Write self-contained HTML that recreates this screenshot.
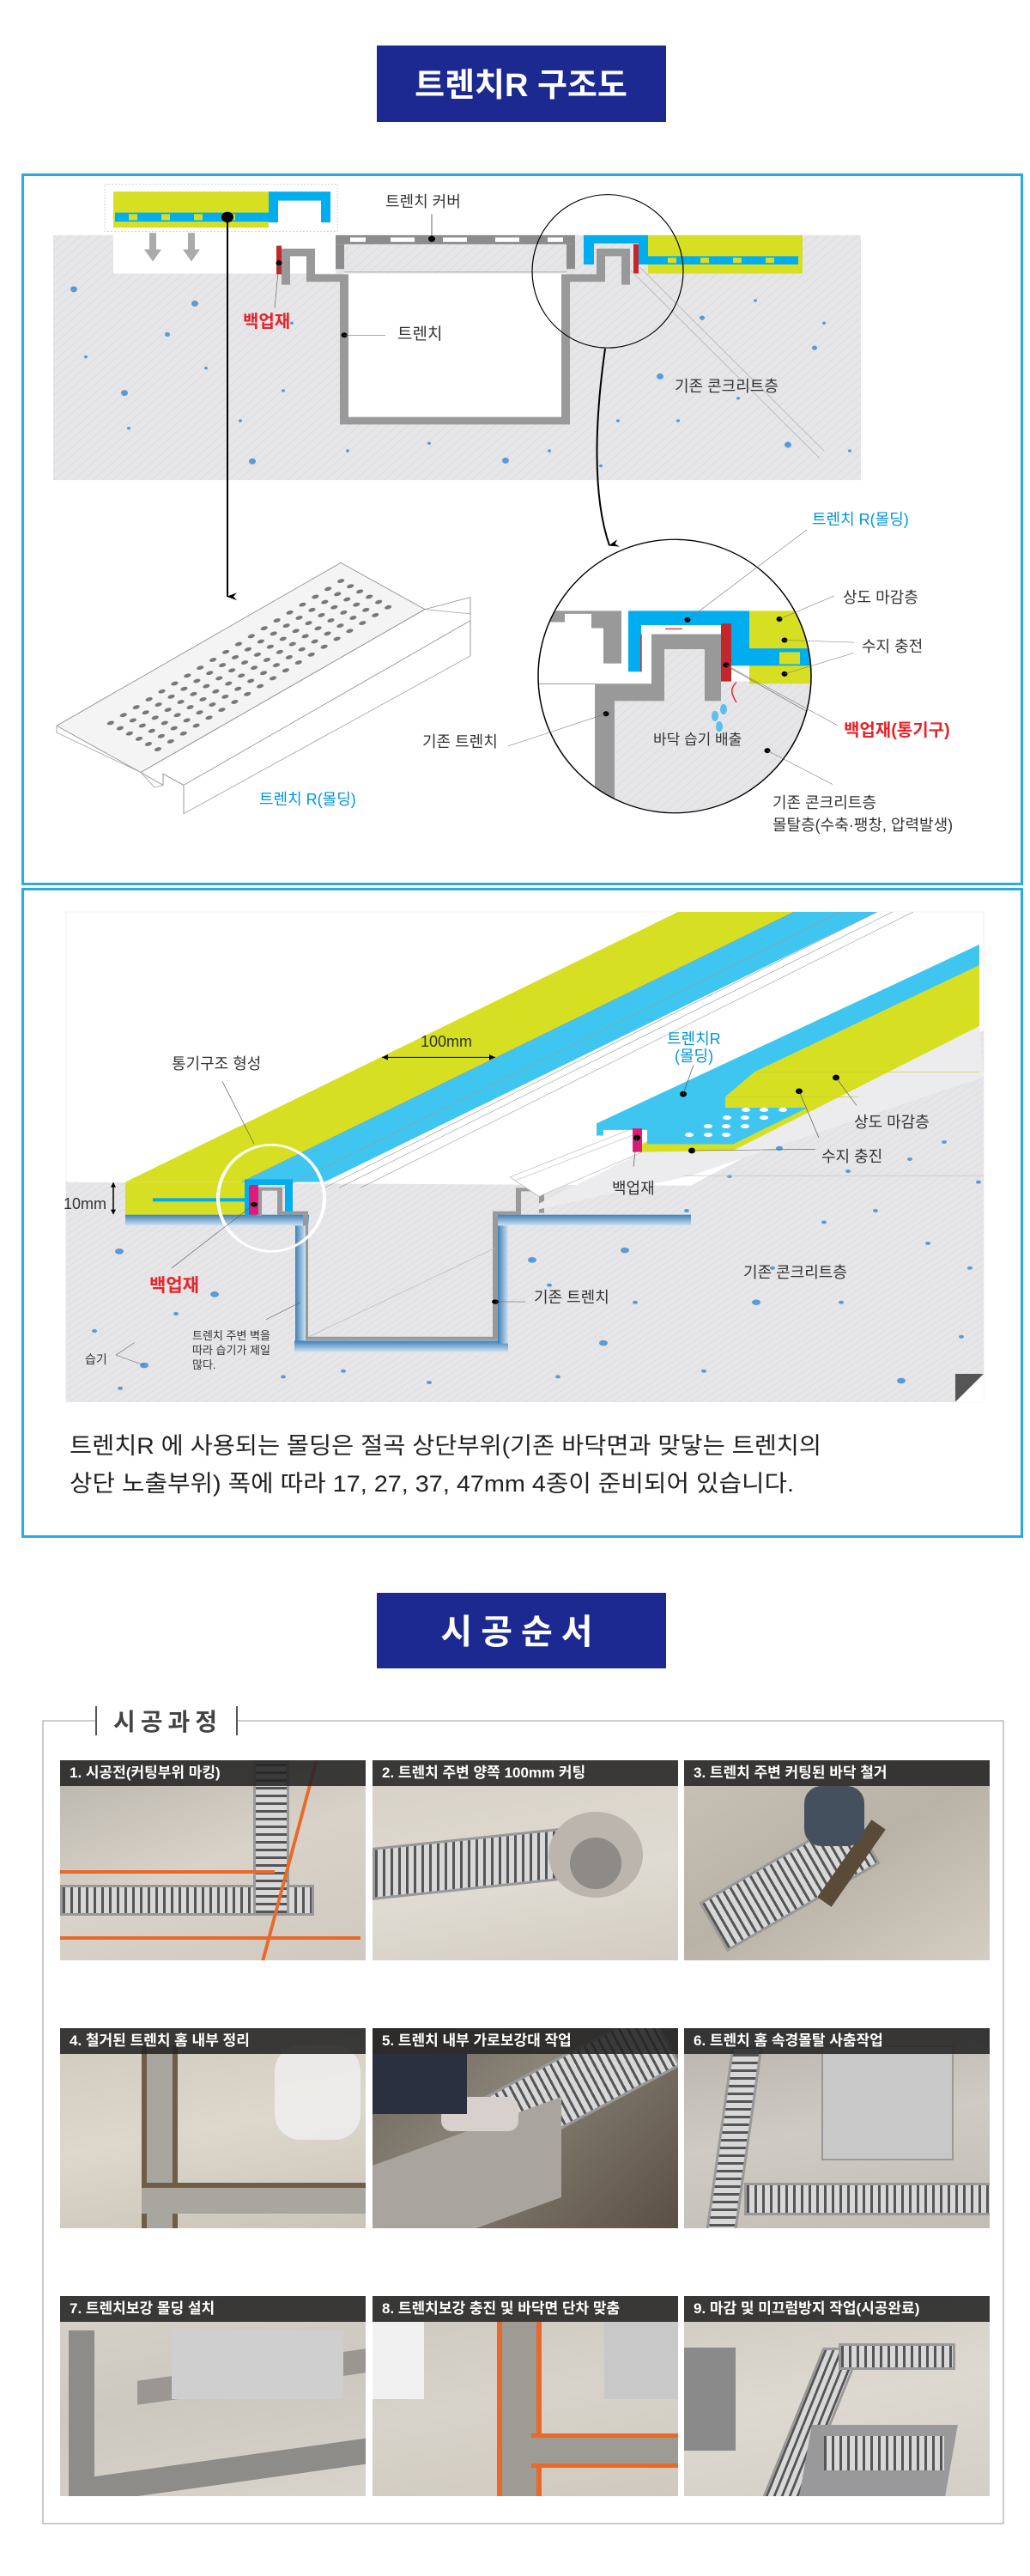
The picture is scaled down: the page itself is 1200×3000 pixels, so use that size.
<!DOCTYPE html>
<html><head><meta charset="utf-8">
<style>
html,body{margin:0;padding:0;background:#fff;}
body{width:1200px;height:3000px;position:relative;overflow:hidden;font-family:"Liberation Sans","Noto Sans CJK KR",sans-serif;}
svg{position:absolute;left:0;top:0;}
.ph{position:absolute;width:356px;height:233px;overflow:hidden;background:#cbc6bd;}
.ph .cap{position:absolute;left:0;top:0;width:100%;height:30px;background:rgba(35,35,35,0.88);color:#fff;font-weight:bold;font-size:17px;line-height:30px;padding-left:11px;box-sizing:border-box;white-space:nowrap;}
.ph div{position:absolute;}
.grH{background:repeating-linear-gradient(90deg,#555 0 3px,#d8d8d8 3px 9px);border:3px solid #999;}
.grV{background:repeating-linear-gradient(0deg,#555 0 3px,#d8d8d8 3px 9px);border:3px solid #999;}
</style></head><body>
<svg width="1200" height="3000" viewBox="0 0 1200 3000" xmlns="http://www.w3.org/2000/svg" font-family="Liberation Sans, Noto Sans CJK KR, sans-serif">
<defs>
<pattern id="hat" width="8" height="8" patternUnits="userSpaceOnUse" patternTransform="rotate(45)">
<rect width="8" height="8" fill="#e6e6e8"/><line x1="0" y1="0" x2="0" y2="8" stroke="#d2d2d6" stroke-width="1"/>
</pattern>
<pattern id="holes" width="1" height="1" patternUnits="userSpaceOnUse" patternTransform="matrix(14.9,-10.5,11,7,116,964)">
<circle cx="0.5" cy="0.5" r="0.22" fill="#777"/>
</pattern>
<clipPath id="bc"><ellipse cx="786" cy="900" rx="159" ry="182"/></clipPath>
<marker id="ah" markerWidth="10" markerHeight="12" refX="5" refY="11" orient="auto" markerUnits="userSpaceOnUse"><path d="M0,0 L5,12 L10,0 L5,4 Z" fill="#000"/></marker>
<linearGradient id="bl" x1="0" y1="0" x2="0" y2="1"><stop offset="0" stop-color="#3f7fb5"/><stop offset="1" stop-color="#cfe3f3"/></linearGradient>
<linearGradient id="blv" x1="0" y1="0" x2="1" y2="0"><stop offset="0" stop-color="#3f7fb5"/><stop offset="1" stop-color="#cfe3f3"/></linearGradient>
</defs>

<!-- Title 1 -->
<rect x="439" y="53" width="337" height="89" fill="#1b2990"/>
<text x="607" y="112" font-size="38" font-weight="bold" fill="#fff" text-anchor="middle">트렌치R 구조도</text>

<!-- Panel 1 -->
<rect x="26.5" y="203.5" width="1164" height="826" fill="#fff" stroke="#29abe2" stroke-width="3"/>
<g transform="scale(1,0.875)">
<rect x="62" y="313" width="941" height="326" fill="url(#hat)"/>
<rect x="132" y="313" width="259" height="51" fill="#fff"/>
<g fill="#5b9bd5">
<circle cx="86" cy="385" r="4"/><circle cx="227" cy="404" r="4"/><circle cx="145" cy="523" r="4"/><circle cx="294" cy="614" r="4"/><circle cx="589" cy="613" r="4"/><circle cx="769" cy="501" r="4"/><circle cx="918" cy="592" r="4"/><circle cx="949" cy="463" r="3"/><circle cx="818" cy="423" r="3"/><circle cx="195" cy="445" r="3"/><circle cx="100" cy="475" r="2"/><circle cx="240" cy="490" r="2"/><circle cx="330" cy="520" r="2"/><circle cx="405" cy="600" r="2"/><circle cx="500" cy="590" r="2"/><circle cx="640" cy="600" r="2"/><circle cx="720" cy="560" r="2"/><circle cx="860" cy="530" r="2"/><circle cx="960" cy="430" r="2"/><circle cx="880" cy="400" r="2"/><circle cx="150" cy="570" r="2"/><circle cx="280" cy="560" r="2"/><circle cx="340" cy="430" r="2"/><circle cx="700" cy="620" r="2"/><circle cx="790" cy="560" r="2"/><circle cx="990" cy="600" r="2"/>
</g>
<rect x="122" y="245" width="271" height="63" fill="none" stroke="#ccc" stroke-dasharray="2,2"/>
<rect x="132" y="255" width="181" height="48" fill="#d7df23"/>
<rect x="134" y="283" width="179" height="12" fill="#00aeef"/>
<g fill="#d7df23"><rect x="150" y="285" width="10" height="8"/><rect x="188" y="285" width="10" height="8"/><rect x="226" y="285" width="10" height="8"/><rect x="264" y="285" width="10" height="8"/></g>
<path d="M313 255 H385 V296 H374 V267 H324 V296 H313 Z" fill="#00aeef"/>
<g fill="#aaa"><path d="M174 310 h8 v22 h6 l-10 16 l-10 -16 h6z"/><path d="M219 310 h8 v22 h6 l-10 16 l-10 -16 h6z"/></g>
<rect x="391" y="313" width="279" height="12" fill="#8c8c8c"/>
<g fill="#fff"><rect x="408" y="316" width="18" height="6"/><rect x="455" y="316" width="28" height="6"/><rect x="516" y="316" width="28" height="6"/><rect x="577" y="316" width="28" height="6"/><rect x="638" y="316" width="18" height="6"/></g>
<rect x="391" y="325" width="10" height="33" fill="#8c8c8c"/><rect x="660" y="325" width="10" height="33" fill="#8c8c8c"/>
<line x1="401" y1="362" x2="660" y2="362" stroke="#aaa"/>
<rect x="401" y="364" width="258" height="196" fill="#fff"/>
<path d="M333 379 V336 H362 V370 H401 V560 H659 V370 H700 V336 H729 V379" fill="none" stroke="#999" stroke-width="10"/>
<rect x="322" y="327" width="6" height="38" fill="#c1272d"/>
<rect x="738" y="325" width="6" height="39" fill="#c1272d"/>
<path d="M680 313 H755 V352 H744 V324 H692 V352 H680 Z" fill="#00aeef"/>
<rect x="755" y="313" width="180" height="51" fill="#d7df23"/>
<rect x="744" y="341" width="186" height="11" fill="#00aeef"/>
<g fill="#d7df23"><rect x="778" y="343" width="10" height="7"/><rect x="816" y="343" width="10" height="7"/><rect x="854" y="343" width="10" height="7"/><rect x="892" y="343" width="10" height="7"/></g>
<line x1="735" y1="360" x2="955" y2="610" stroke="#bbb"/><line x1="745" y1="355" x2="960" y2="600" stroke="#bbb"/>
<ellipse cx="708" cy="361" rx="88" ry="102" fill="none" stroke="#000" stroke-width="1.2"/>
<circle cx="503" cy="318" r="4"/>
<line x1="503" y1="318" x2="503" y2="285" stroke="#000" stroke-width="0.6"/>
<circle cx="325" cy="350" r="3.5"/>
<line x1="325" y1="350" x2="320" y2="410" stroke="#555" stroke-width="0.6"/>
<circle cx="401" cy="446" r="3.5"/>
<line x1="401" y1="446" x2="449" y2="446" stroke="#555" stroke-width="0.6"/>
<circle cx="265" cy="289" r="7"/>
<line x1="265" y1="289" x2="265" y2="794" stroke="#000" stroke-width="2" marker-end="url(#ah)"/>
<path d="M705 464 C 693 560, 690 660, 710 726" fill="none" stroke="#000" stroke-width="2" marker-end="url(#ah)"/>
<path d="M66 966 L397 749 L495 811 L548 817 L548 873 L214 1083 L214 1045 L190 1030 L190 1045 L180 1048 L164 1028 L66 975 Z" fill="#fff" stroke="#aaa" stroke-width="1"/>
<path d="M66 966 L397 749 L495 811 L164 1028 Z" fill="#f4f4f4" stroke="#999" stroke-width="1"/>
<path d="M495 811 L548 795 L548 817 M164 1028 L190 1045 M190 1045 L190 1030 L214 1045 L548 826 M214 1045 V1083 M548 826 V873 M164 1028 L495 811" fill="none" stroke="#999" stroke-width="1"/>
<polygon points="116,964 399,765 464,805 182,1006" fill="url(#holes)"/>
<ellipse cx="786" cy="900" rx="159" ry="182" fill="#fff"/>
<g clip-path="url(#bc)">
<polygon points="716,933 759,933 759,844 821,844 821,933 840,933 840,907 945,907 945,1090 716,1090" fill="url(#hat)"/>
<line x1="620" y1="910" x2="693" y2="910" stroke="#888"/>
<path d="M627 813 H724 V883 H703 V836 H658 V828 H627 Z" fill="#999"/>
<rect x="658" y="817" width="31" height="19" fill="#fff"/>
<path d="M693 910 H759 V844 H840 V933 H821 V864 H774 V933 H716 V1090 H693 Z" fill="#999"/>
<rect x="873" y="813" width="80" height="97" fill="#d7df23"/>
<path d="M732 813 H873 V863 H953 V886 H852 V844 H840 V832 H747 V894 H732 Z" fill="#00aeef"/>
<rect x="747" y="832" width="93" height="12" fill="#fff"/>
<rect x="908" y="868" width="24" height="16" fill="#d7df23"/>
<rect x="840" y="830" width="12" height="77" fill="#c1272d"/>
<path d="M747 844 V894" stroke="#e8232a" stroke-width="1.5"/>
<path d="M795 837 H775" stroke="#e8232a" stroke-width="1.5"/>
<path d="M858 935 C 850 920, 852 915, 858 908" fill="none" stroke="#e8232a" stroke-width="1.5"/>
<g fill="#5bc0eb"><ellipse cx="833" cy="953" rx="4" ry="7"/><ellipse cx="843" cy="944" rx="4" ry="7"/><ellipse cx="838" cy="967" rx="4" ry="7"/></g>
<line x1="852" y1="890" x2="960" y2="960" stroke="#555" stroke-width="0.6"/>
</g>
<ellipse cx="786" cy="900" rx="159" ry="182" fill="none" stroke="#000" stroke-width="1.5"/>
<g fill="#000"><circle cx="801" cy="825" r="3.5"/><circle cx="908" cy="824" r="3.5"/><circle cx="914" cy="852" r="3.5"/><circle cx="914" cy="897" r="3.5"/><circle cx="846" cy="885" r="3.5"/><circle cx="706" cy="950" r="3.5"/><circle cx="894" cy="999" r="3.5"/></g>
<g stroke="#777" stroke-width="0.6" fill="none">
<line x1="801" y1="825" x2="940" y2="705"/><line x1="908" y1="824" x2="972" y2="793"/><line x1="914" y1="852" x2="995" y2="855"/><line x1="914" y1="897" x2="995" y2="869"/><line x1="846" y1="885" x2="975" y2="965"/><line x1="706" y1="950" x2="592" y2="993"/><line x1="894" y1="999" x2="970" y2="1044"/>
</g>
</g>
<text x="449" y="241" font-size="18" fill="#333">트렌치 커버</text>
<text x="283" y="381" font-size="20" font-weight="bold" fill="#e8232a">백업재</text>
<text x="463" y="395" font-size="19" fill="#333">트렌치</text>
<text x="786" y="456" font-size="18" fill="#333">기존 콘크리트층</text>
<text x="302" y="937" font-size="18" fill="#0095da">트렌치 R(몰딩)</text>
<text x="946" y="611" font-size="18" fill="#0095da">트렌치 R(몰딩)</text>
<text x="982" y="702" font-size="18" fill="#333">상도 마감층</text>
<text x="1004" y="759" font-size="18" fill="#333">수지 충전</text>
<text x="983" y="857" font-size="20" font-weight="bold" fill="#e8232a">백업재(통기구)</text>
<text x="492" y="870" font-size="18" fill="#333">기존 트렌치</text>
<text x="761" y="867" font-size="17" fill="#333">바닥 습기 배출</text>
<text x="900" y="941" font-size="18" fill="#333">기존 콘크리트층</text>
<text x="900" y="967" font-size="18" fill="#333">몰탈층(수축·팽창, 압력발생)</text>

<!-- Panel 2 -->
<rect x="26.5" y="1035.5" width="1164" height="754" fill="#fff" stroke="#29abe2" stroke-width="3"/>
<g transform="translate(0,1030) scale(1,0.6667) translate(0,-1030)">
<rect x="77" y="1078" width="1069" height="856" fill="#fff" stroke="#eee"/>
<polygon points="77,1550 805,1556 1146,1285 1146,1934 77,1934" fill="url(#hat)"/>
<g fill="#5b9bd5">
<circle cx="139" cy="1671" r="5"/><circle cx="250" cy="1746" r="5"/><circle cx="168" cy="1870" r="5"/><circle cx="620" cy="1686" r="5"/><circle cx="728" cy="1669" r="5"/><circle cx="703" cy="1831" r="5"/><circle cx="881" cy="1760" r="5"/><circle cx="1050" cy="1897" r="5"/><circle cx="908" cy="1491" r="4"/><circle cx="988" cy="1531" r="3"/><circle cx="1081" cy="1657" r="3"/><circle cx="1020" cy="1600" r="3"/><circle cx="1100" cy="1480" r="3"/><circle cx="1060" cy="1510" r="3"/><circle cx="960" cy="1620" r="3"/><circle cx="900" cy="1700" r="3"/><circle cx="980" cy="1760" r="3"/><circle cx="1120" cy="1820" r="3"/><circle cx="820" cy="1880" r="3"/><circle cx="650" cy="1890" r="3"/><circle cx="500" cy="1900" r="3"/><circle cx="400" cy="1880" r="3"/><circle cx="205" cy="1780" r="3"/><circle cx="110" cy="1810" r="3"/><circle cx="140" cy="1910" r="3"/><circle cx="330" cy="1890" r="3"/><circle cx="740" cy="1760" r="3"/><circle cx="640" cy="1730" r="3"/><circle cx="800" cy="1600" r="3"/><circle cx="850" cy="1540" r="3"/><circle cx="780" cy="1510" r="3"/><circle cx="1130" cy="1700" r="3"/><circle cx="1140" cy="1550" r="3"/>
</g>
<polygon points="1113,1885 1146,1885 1113,1934" fill="#555"/>
<polygon points="1146,1885 1146,1934 1113,1934" fill="#fff"/>
<polygon points="146,1550 790,1078 925,1078 281,1550" fill="#d7df23"/>
<polygon points="281,1550 925,1078 1022,1078 378,1550" fill="#3fc6f0"/>
<polygon points="378,1550 1022,1078 1064,1078 420,1550" fill="#fff"/>
<g stroke="#999" stroke-width="0.8"><line x1="281" y1="1550" x2="925" y2="1078"/><line x1="330" y1="1560" x2="980" y2="1078"/><line x1="378" y1="1560" x2="1022" y2="1078"/><line x1="395" y1="1560" x2="1040" y2="1078"/><line x1="420" y1="1560" x2="1064" y2="1078"/></g>
<rect x="146" y="1550" width="140" height="57" fill="#d7df23"/>
<rect x="178" y="1578" width="108" height="6" fill="#00aeef"/>
<rect x="146" y="1607" width="214" height="19" fill="url(#bl)"/>
<path d="M285 1545 H341 V1609 H332 V1555 H294 V1609 H285 Z" fill="#00aeef"/>
<path d="M302 1609 V1562 H326 V1604 H356 V1823 H577 V1604 H604 V1563 H631 V1604" fill="none" stroke="#999" stroke-width="6"/>
<rect x="290" y="1555" width="11" height="52" fill="#e0197d"/>
<rect x="344" y="1626" width="12" height="220" fill="url(#blv)"/>
<rect x="343" y="1827" width="249" height="20" fill="url(#bl)"/>
<rect x="580" y="1607" width="12" height="225" fill="url(#blv)"/>
<rect x="580" y="1607" width="225" height="19" fill="url(#bl)"/>
<line x1="360" y1="1820" x2="577" y2="1665" stroke="#bbb"/>
</g>
<g transform="translate(0,1100) scale(1,0.8333) translate(0,-1100)">
<polygon points="628,1462 748,1390 854,1388 1141,1214 1146,1285 805,1423 628,1470" fill="#ececee"/>
<line x1="797" y1="1423" x2="1146" y2="1423" stroke="#ccc"/>
<polygon points="594,1425 737,1357 748,1390 628,1452" fill="#fff" stroke="#bbb" stroke-width="0.8"/>
<line x1="600" y1="1430" x2="740" y2="1365" stroke="#ccc"/>
<polygon points="879,1278 1141,1129 1141,1214 854,1388 748,1390 748,1379 845,1313" fill="#d7df23"/>
<polygon points="695,1350 1141,1100 1141,1129 879,1278 845,1313 845,1328 941,1328 854,1379 754,1379 754,1359 703,1359 703,1367 695,1367" fill="#3fc6f0"/>
<g stroke="#c8cf2a" stroke-width="0.8"><line x1="879" y1="1278" x2="1141" y2="1278"/><line x1="845" y1="1313" x2="1000" y2="1313"/></g>
<g fill="#fff"><ellipse cx="803" cy="1366" rx="5" ry="3"/><ellipse cx="825" cy="1366" rx="5" ry="3"/><ellipse cx="846" cy="1366" rx="5" ry="3"/><ellipse cx="825" cy="1354" rx="5" ry="3"/><ellipse cx="846" cy="1354" rx="5" ry="3"/><ellipse cx="868" cy="1354" rx="5" ry="3"/><ellipse cx="847" cy="1342" rx="5" ry="3"/><ellipse cx="868" cy="1342" rx="5" ry="3"/><ellipse cx="890" cy="1342" rx="5" ry="3"/><ellipse cx="869" cy="1331" rx="5" ry="3"/><ellipse cx="890" cy="1331" rx="5" ry="3"/><ellipse cx="912" cy="1331" rx="5" ry="3"/></g>
<rect x="737" y="1357" width="11" height="33" fill="#e0197d"/>
<g fill="#000"><circle cx="796" cy="1309" r="4"/><circle cx="974" cy="1286" r="4"/><circle cx="931" cy="1305" r="4"/><circle cx="806" cy="1388" r="4"/><circle cx="742" cy="1370" r="4"/></g>
<g stroke="#555" stroke-width="0.7" fill="none">
<line x1="796" y1="1309" x2="808" y2="1268"/><line x1="974" y1="1286" x2="998" y2="1325"/><line x1="931" y1="1305" x2="954" y2="1370"/><line x1="806" y1="1388" x2="950" y2="1386"/><line x1="742" y1="1370" x2="738" y2="1410"/>
</g>
</g>
<g transform="translate(0,1030) scale(1,0.6667) translate(0,-1030)">
<ellipse cx="316" cy="1578" rx="62" ry="93" fill="none" stroke="#fff" stroke-width="4"/>
<g fill="#000"><circle cx="296" cy="1589" r="4"/><circle cx="577" cy="1759" r="4"/></g>
<g stroke="#555" stroke-width="0.7" fill="none">
<line x1="259" y1="1374" x2="296" y2="1483"/><line x1="296" y1="1589" x2="200" y2="1700"/><line x1="577" y1="1759" x2="612" y2="1759"/>
<line x1="310" y1="1790" x2="350" y2="1760"/><line x1="135" y1="1852" x2="157" y2="1830"/><line x1="135" y1="1852" x2="168" y2="1870"/>
</g>
<line x1="445" y1="1332" x2="577" y2="1332" stroke="#000" stroke-width="1.5"/>
<path d="M445 1332 l7 -5 v10z M577 1332 l-7 -5 v10z" fill="#000"/>
<line x1="132" y1="1552" x2="132" y2="1605" stroke="#000" stroke-width="1.5"/>
<path d="M132 1550 l-3 9 h6z M132 1607 l-3 -9 h6z" fill="#000"/>
</g>
<text x="490" y="1219" font-size="18" fill="#333">100mm</text>
<text x="200" y="1245" font-size="18" fill="#333">통기구조 형성</text>
<text x="74" y="1408" font-size="18" fill="#333">10mm</text>
<text x="174" y="1504" font-size="21" font-weight="bold" fill="#e8232a">백업재</text>
<text x="224" y="1560" font-size="13" fill="#333">트렌치 주변 벽을</text>
<text x="224" y="1577" font-size="13" fill="#333">따라 습기가 제일</text>
<text x="224" y="1594" font-size="13" fill="#333">많다.</text>
<text x="99" y="1588" font-size="14" fill="#333">습기</text>
<text x="777" y="1216" font-size="18" fill="#0095da">트렌치R</text>
<text x="786" y="1236" font-size="18" fill="#0095da">(몰딩)</text>
<text x="995" y="1313" font-size="18" fill="#333">상도 마감층</text>
<text x="957" y="1353" font-size="18" fill="#333">수지 충진</text>
<text x="713" y="1390" font-size="18" fill="#333">백업재</text>
<text x="866" y="1488" font-size="18" fill="#333">기존 콘크리트층</text>
<text x="622" y="1517" font-size="18" fill="#333">기존 트렌치</text>
<text x="81" y="1693" font-size="27" fill="#222" textLength="876" lengthAdjust="spacingAndGlyphs">트렌치R 에 사용되는 몰딩은 절곡 상단부위(기존 바닥면과 맞닿는 트렌치의</text>
<text x="81" y="1737" font-size="27" fill="#222" textLength="844" lengthAdjust="spacingAndGlyphs">상단 노출부위) 폭에 따라 17, 27, 37, 47mm 4종이 준비되어 있습니다.</text>

<!-- Title 2 -->
<rect x="439" y="1855" width="337" height="88" fill="#1b2990"/>
<text x="607" y="1914" font-size="40" font-weight="bold" fill="#fff" text-anchor="middle" letter-spacing="10">시공순서</text>

<!-- section box -->
<path d="M112 2004 H50 V2939 H1169 V2004 H276" fill="none" stroke="#999" stroke-width="1"/>
<line x1="112" y1="1987" x2="112" y2="2021" stroke="#555" stroke-width="2"/>
<line x1="276" y1="1987" x2="276" y2="2021" stroke="#555" stroke-width="2"/>
<text x="132" y="2015" font-size="28" font-weight="bold" fill="#444" letter-spacing="6">시공과정</text>
</svg>

<div class="ph" style="left:70px;top:2050px;background:linear-gradient(160deg,#b9b4ac,#d8d2c8 50%,#cfc9bf);">
<div class="grH" style="left:0;top:145px;width:290px;height:30px;"></div>
<div class="grV" style="left:225px;top:0;width:36px;height:175px;"></div>
<div style="left:0;top:128px;width:250px;height:4px;background:#e8692a;"></div>
<div style="left:0;top:205px;width:350px;height:4px;background:#e8692a;"></div>
<div style="left:265px;top:0;width:4px;height:237px;background:#e8692a;transform:skewX(-15deg);"></div>
<div class="cap">1. 시공전(커팅부위 마킹)</div></div>

<div class="ph" style="left:434px;top:2050px;background:linear-gradient(170deg,#d6d0c6,#e0dbd2 60%,#d2ccc2);">
<div class="grH" style="left:0;top:90px;width:220px;height:55px;transform:skewY(-6deg);"></div>
<div style="left:205px;top:60px;width:110px;height:100px;border-radius:50%;background:#bbb5ad;"></div>
<div style="left:230px;top:90px;width:60px;height:60px;border-radius:50%;background:#8e8a85;"></div>
<div class="cap">2. 트렌치 주변 양쪽 100mm 커팅</div></div>

<div class="ph" style="left:797px;top:2050px;background:linear-gradient(150deg,#c9c2b6,#b9b2a6 50%,#d4cdc2);">
<div class="grH" style="left:20px;top:110px;width:200px;height:60px;transform:rotate(-30deg);"></div>
<div style="left:140px;top:110px;width:110px;height:20px;background:#5a4a38;transform:rotate(-55deg);"></div>
<div style="left:140px;top:30px;width:70px;height:70px;background:#45505e;border-radius:20px;"></div>
<div class="cap">3. 트렌치 주변 커팅된 바닥 철거</div></div>

<div class="ph" style="left:70px;top:2362px;background:linear-gradient(170deg,#cfc9be,#ddd7cc 50%,#cbc4b8);">
<div style="left:95px;top:20px;width:30px;height:217px;background:#a9a59f;border-left:6px solid #6e5e48;border-right:6px solid #6e5e48;"></div>
<div style="left:95px;top:180px;width:261px;height:30px;background:#a9a59f;border-top:6px solid #6e5e48;"></div>
<div style="left:250px;top:20px;width:100px;height:110px;background:rgba(240,240,240,0.8);border-radius:30px;"></div>
<div class="cap">4. 철거된 트렌치 홈 내부 정리</div></div>

<div class="ph" style="left:434px;top:2362px;background:linear-gradient(135deg,#6a6258,#8a8378 40%,#5a4f42);">
<div class="grH" style="left:110px;top:30px;width:240px;height:70px;transform:rotate(-28deg);"></div>
<div style="left:0;top:120px;width:220px;height:117px;background:#a9a49d;transform:skewY(-20deg);"></div>
<div style="left:80px;top:80px;width:90px;height:40px;background:#d8d0cc;border-radius:12px;"></div>
<div style="left:0;top:30px;width:110px;height:70px;background:#2b3040;"></div>
<div class="cap">5. 트렌치 내부 가로보강대 작업</div></div>

<div class="ph" style="left:797px;top:2362px;background:linear-gradient(170deg,#b8b3ad,#cfcac3 50%,#c1bcb5);">
<div class="grV" style="left:40px;top:20px;width:30px;height:217px;transform:skewX(-8deg);"></div>
<div class="grH" style="left:70px;top:180px;width:290px;height:32px;"></div>
<div style="left:160px;top:20px;width:150px;height:130px;background:#c8c8c8;border:2px solid #999;"></div>
<div class="cap">6. 트렌치 홈 속경몰탈 사춤작업</div></div>

<div class="ph" style="left:70px;top:2674px;background:linear-gradient(170deg,#d6d2ca,#cdc8bf 50%,#d9d4cb);">
<div style="left:10px;top:40px;width:30px;height:197px;background:#8e8c88;"></div>
<div style="left:10px;top:190px;width:346px;height:30px;background:#8e8c88;transform:skewY(-8deg);"></div>
<div style="left:90px;top:80px;width:266px;height:28px;background:#9a9793;transform:skewY(-8deg);"></div>
<div style="left:130px;top:40px;width:200px;height:80px;background:#cfcfcf;"></div>
<div class="cap">7. 트렌치보강 몰딩 설치</div></div>

<div class="ph" style="left:434px;top:2674px;background:linear-gradient(170deg,#cdc8bf,#d8d3ca 50%,#cfc9bf);">
<div style="left:145px;top:30px;width:40px;height:207px;background:#9e9a94;border-left:6px solid #e8692a;border-right:6px solid #e8692a;"></div>
<div style="left:185px;top:160px;width:171px;height:30px;background:#9e9a94;border-top:5px solid #e8692a;border-bottom:5px solid #e8692a;"></div>
<div style="left:0;top:30px;width:60px;height:90px;background:#f0f0f0;"></div>
<div style="left:270px;top:30px;width:86px;height:90px;background:#c8c8c8;"></div>
<div class="cap">8. 트렌치보강 충진 및 바닥면 단차 맞춤</div></div>

<div class="ph" style="left:797px;top:2674px;background:linear-gradient(170deg,#cfcac2,#ddd8d0 50%,#d3cec6);">
<div class="grH" style="left:120px;top:60px;width:40px;height:200px;transform:skewX(-22deg);"></div>
<div style="left:140px;top:150px;width:170px;height:100px;background:#99989a;transform:skewX(-10deg);"></div>
<div class="grH" style="left:160px;top:160px;width:140px;height:40px;"></div>
<div class="grH" style="left:180px;top:55px;width:130px;height:25px;"></div>
<div style="left:0;top:60px;width:60px;height:120px;background:#8a8a8a;"></div>
<div class="cap">9. 마감 및 미끄럼방지 작업(시공완료)</div></div>
</body></html>
